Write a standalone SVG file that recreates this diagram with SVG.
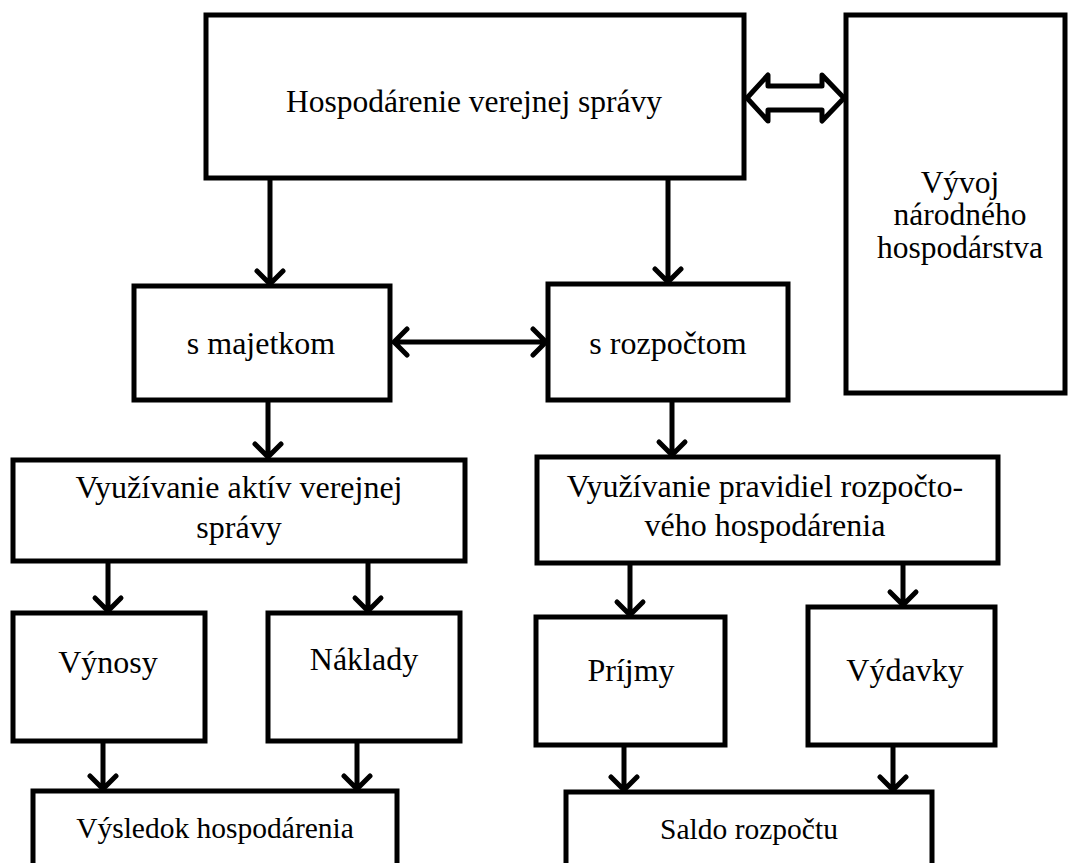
<svg xmlns="http://www.w3.org/2000/svg" width="1070" height="863" viewBox="0 0 1070 863">
<defs>
<style>
.box{fill:#fff;stroke:#000;stroke-width:5}
.t{font-family:'Liberation Serif','Times New Roman',serif;font-size:32px;fill:#000;text-anchor:middle}
.c{fill:none;stroke:#000;stroke-width:5;stroke-linecap:round;stroke-linejoin:round}
</style>
</defs>
<rect width="1070" height="863" fill="#fff"/>
<g id="n-top"><rect class="box" x="206" y="15" width="538" height="163"/><text class="t" x="474" y="112" style="font-size:31.5px">Hospodárenie verejnej správy</text></g>
<g id="n-vyvoj"><rect class="box" x="846" y="15" width="219" height="378"/><text class="t" x="960" y="193" style="font-size:31.5px">Vývoj</text><text class="t" x="960" y="225" style="font-size:31.5px">národného</text><text class="t" x="960" y="258" style="font-size:31.5px">hospodárstva</text></g>
<g id="n-majetok"><rect class="box" x="134" y="286" width="256" height="114"/><text class="t" x="261" y="354">s majetkom</text></g>
<g id="n-rozpocet"><rect class="box" x="548" y="284" width="240" height="116"/><text class="t" x="668" y="354">s rozpočtom</text></g>
<g id="n-aktiva"><rect class="box" x="13" y="460" width="452" height="101"/><text class="t" x="239" y="498">Využívanie aktív verejnej</text><text class="t" x="239" y="538">správy</text></g>
<g id="n-pravidla"><rect class="box" x="537" y="457" width="461" height="106"/><text class="t" x="765" y="497">Využívanie pravidiel rozpočto-</text><text class="t" x="765" y="536">vého hospodárenia</text></g>
<g id="n-vynosy"><rect class="box" x="13" y="613" width="192" height="128"/><text class="t" x="108" y="673">Výnosy</text></g>
<g id="n-naklady"><rect class="box" x="268" y="613" width="192" height="128"/><text class="t" x="364" y="670">Náklady</text></g>
<g id="n-prijmy"><rect class="box" x="536" y="617" width="189" height="128"/><text class="t" x="631" y="681">Príjmy</text></g>
<g id="n-vydavky"><rect class="box" x="808" y="607" width="187" height="138"/><text class="t" x="905" y="681">Výdavky</text></g>
<g id="n-vysledok"><rect class="box" x="33" y="791" width="364" height="80"/><text class="t" x="215" y="838" style="font-size:29.5px">Výsledok hospodárenia</text></g>
<g id="n-saldo"><rect class="box" x="566" y="792" width="366" height="80"/><text class="t" x="749" y="839" style="font-size:29.5px">Saldo rozpočtu</text></g>
<g id="connectors">
<path class="c" d="M747,98 L768,75 L768,86 L822,86 L822,75 L844,98 L822,121 L822,110 L768,110 L768,121 Z" fill="#fff"/>
<path class="c" d="M270,180 V284 M257,271 L270,284 L283,271"/>
<path class="c" d="M668,180 V282 M655,269 L668,282 L681,269"/>
<path class="c" d="M394,342 H546 M407,329 L394,342 L407,355 M533,329 L546,342 L533,355"/>
<path class="c" d="M268,402 V457 M255,444 L268,457 L281,444"/>
<path class="c" d="M672,402 V455 M659,442 L672,455 L685,442"/>
<path class="c" d="M108,563 V611 M95,598 L108,611 L121,598"/>
<path class="c" d="M368,563 V611 M355,598 L368,611 L381,598"/>
<path class="c" d="M630,565 V615 M617,602 L630,615 L643,602"/>
<path class="c" d="M903,565 V605 M890,592 L903,605 L916,592"/>
<path class="c" d="M103,743 V789 M90,776 L103,789 L116,776"/>
<path class="c" d="M357,743 V789 M344,776 L357,789 L370,776"/>
<path class="c" d="M624,747 V790 M611,777 L624,790 L637,777"/>
<path class="c" d="M893,747 V790 M880,777 L893,790 L906,777"/>
</g>
</svg>
